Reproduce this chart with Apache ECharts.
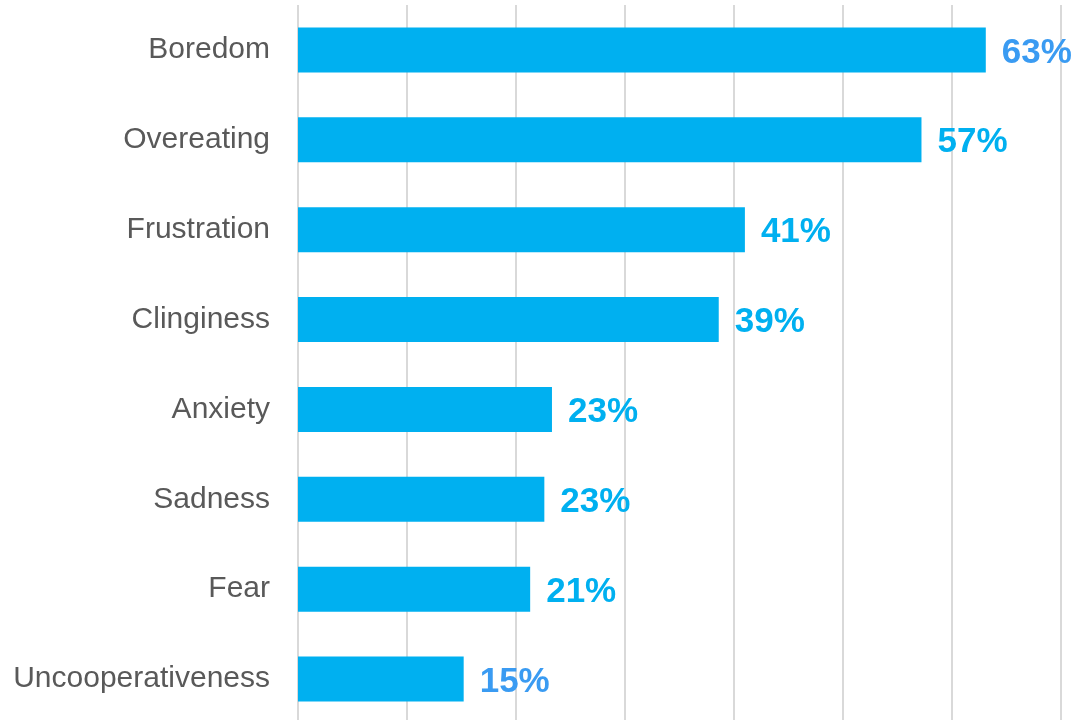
<!DOCTYPE html>
<html>
<head>
<meta charset="utf-8">
<script src="https://cdn.jsdelivr.net/npm/echarts@6/dist/echarts.min.js"></script>
<style>html,body{margin:0;padding:0;background:#fff;overflow:hidden;}#chart{width:1081px;height:725px;}</style>
</head>
<body>
<div id="chart"></div>
<script>
const categories = ["Boredom","Overeating","Frustration","Clinginess","Anxiety","Sadness","Fear","Uncooperativeness"];
const values = [63.1, 57.2, 41.0, 38.6, 23.3, 22.6, 21.3, 15.2];
const labelColors = ["#3A9BF2","#00B0F0","#00B0F0","#00B0F0","#00B0F0","#00B0F0","#00B0F0","#3A9BF2"];

const chart = echarts.init(document.getElementById('chart'), null, {renderer:'canvas'});
chart.setOption({
  animation: false,
  grid: {left: 298, right: 20, top: 5, bottom: 1, containLabel: false},
  xAxis: {
    type: 'value', min: 0, max: 70, interval: 10,
    axisLabel: {show: false}, axisLine: {show: false}, axisTick: {show: false},
    splitLine: {show: true, lineStyle: {color: '#D9D9D9', width: 2}}
  },
  yAxis: {
    type: 'category', data: categories, inverse: true,
    axisLine: {show: false}, axisTick: {show: false},
    axisLabel: {color: '#595959', fontSize: 30, fontFamily: 'Liberation Sans', margin: 28, padding: [4, 0, 0, 0]}
  },
  series: [{
    type: 'bar', barWidth: 45,
    data: values.map((v, i) => ({value: v, label: {color: labelColors[i]}})),
    itemStyle: {color: '#00B0F0'},
    label: {
      show: true, position: 'right', distance: 16, offset: [0, 3],
      fontSize: 35, fontWeight: 'bold', fontFamily: 'Liberation Sans',
      formatter: p => Math.round(p.value) + '%'
    }
  }]
});
</script>
</body>
</html>
